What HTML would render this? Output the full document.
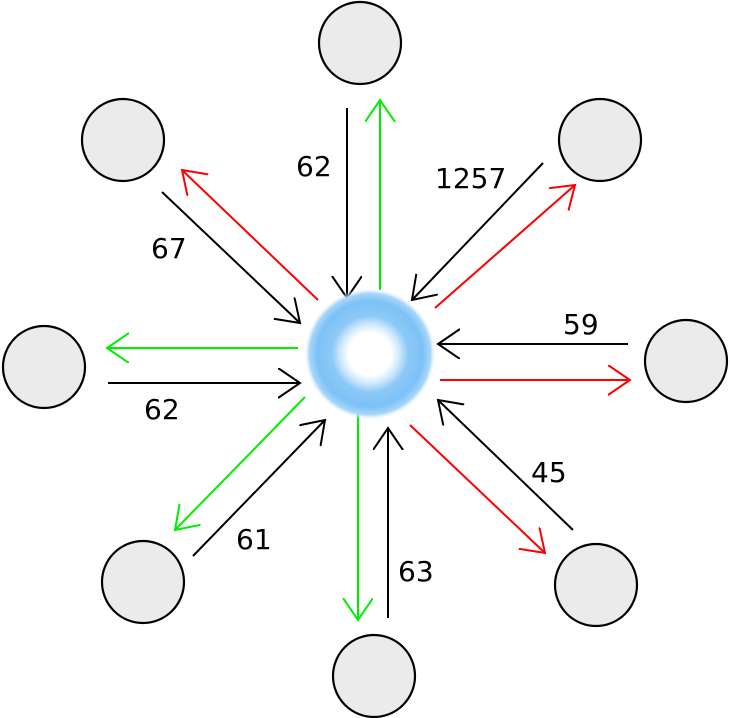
<!DOCTYPE html>
<html><head><meta charset="utf-8"><style>
html,body{margin:0;padding:0;background:#fff;}
svg{display:block;}
text{font-family:"DejaVu Sans","Liberation Sans",sans-serif;font-size:28px;fill:#000;}
</style></head><body>
<svg width="730" height="718" viewBox="0 0 730 718" xmlns="http://www.w3.org/2000/svg">
<defs>
<marker id="mk" markerUnits="userSpaceOnUse" markerWidth="40" markerHeight="40" refX="22" refY="15" orient="auto" viewBox="0 0 40 40"><path d="M0,0 L22,15 L0,30" fill="none" stroke="#000" stroke-width="2"/></marker>
<marker id="mg" markerUnits="userSpaceOnUse" markerWidth="40" markerHeight="40" refX="22" refY="15" orient="auto" viewBox="0 0 40 40"><path d="M0,0 L22,15 L0,30" fill="none" stroke="#00ee00" stroke-width="2"/></marker>
<marker id="mr" markerUnits="userSpaceOnUse" markerWidth="40" markerHeight="40" refX="22" refY="15" orient="auto" viewBox="0 0 40 40"><path d="M0,0 L22,15 L0,30" fill="none" stroke="#ff0000" stroke-width="2"/></marker>
<radialGradient id="sw" cx="0.5" cy="0.5" r="0.5">
<stop offset="0" stop-color="#fff"/><stop offset="0.32" stop-color="#fff"/><stop offset="0.45" stop-color="#cfe8fc"/><stop offset="0.58" stop-color="#8cc9f7"/><stop offset="0.8" stop-color="#7dc1f5"/><stop offset="0.92" stop-color="#a9d6f9"/><stop offset="1" stop-color="#fff" stop-opacity="0"/>
</radialGradient>
</defs>
<g fill="#ebebeb" stroke="#000" stroke-width="2.2">
<circle cx="360" cy="43" r="41"/>
<circle cx="123" cy="140" r="41"/>
<circle cx="600" cy="140" r="41"/>
<circle cx="44" cy="367" r="41"/>
<circle cx="686" cy="361" r="41"/>
<circle cx="143" cy="582" r="41"/>
<circle cx="374" cy="676" r="41"/>
<circle cx="596" cy="585" r="41"/>
</g>
<g stroke-width="2" fill="none">
<line x1="347" y1="108" x2="347" y2="298" stroke="#000" marker-end="url(#mk)"/>
<line x1="380" y1="290" x2="380" y2="100" stroke="#00ee00" marker-end="url(#mg)"/>
<line x1="162" y1="192" x2="300" y2="323" stroke="#000" marker-end="url(#mk)"/>
<line x1="318" y1="300" x2="182" y2="170" stroke="#ff0000" marker-end="url(#mr)"/>
<line x1="543" y1="163" x2="412" y2="300" stroke="#000" marker-end="url(#mk)"/>
<line x1="435" y1="308" x2="575" y2="185" stroke="#ff0000" marker-end="url(#mr)"/>
<line x1="628" y1="344" x2="438" y2="344" stroke="#000" marker-end="url(#mk)"/>
<line x1="440" y1="380" x2="630" y2="380" stroke="#ff0000" marker-end="url(#mr)"/>
<line x1="298" y1="348" x2="107" y2="348" stroke="#00ee00" marker-end="url(#mg)"/>
<line x1="108" y1="383" x2="300" y2="383" stroke="#000" marker-end="url(#mk)"/>
<line x1="305" y1="397" x2="175" y2="530" stroke="#00ee00" marker-end="url(#mg)"/>
<line x1="193" y1="556" x2="325" y2="420" stroke="#000" marker-end="url(#mk)"/>
<line x1="358" y1="405" x2="358" y2="620" stroke="#00ee00" marker-end="url(#mg)"/>
<line x1="388" y1="618" x2="388" y2="428" stroke="#000" marker-end="url(#mk)"/>
<line x1="410" y1="425" x2="545" y2="553" stroke="#ff0000" marker-end="url(#mr)"/>
<line x1="573" y1="530" x2="438" y2="400" stroke="#000" marker-end="url(#mk)"/>
</g>
<circle cx="370" cy="354" r="66" fill="url(#sw)"/>
<text x="296" y="176">62</text>
<text x="151" y="258">67</text>
<text x="435" y="188">1257</text>
<text x="563" y="334">59</text>
<text x="144" y="419">62</text>
<text x="236" y="549">61</text>
<text x="398" y="581">63</text>
<text x="531" y="482">45</text>
</svg>
</body></html>
